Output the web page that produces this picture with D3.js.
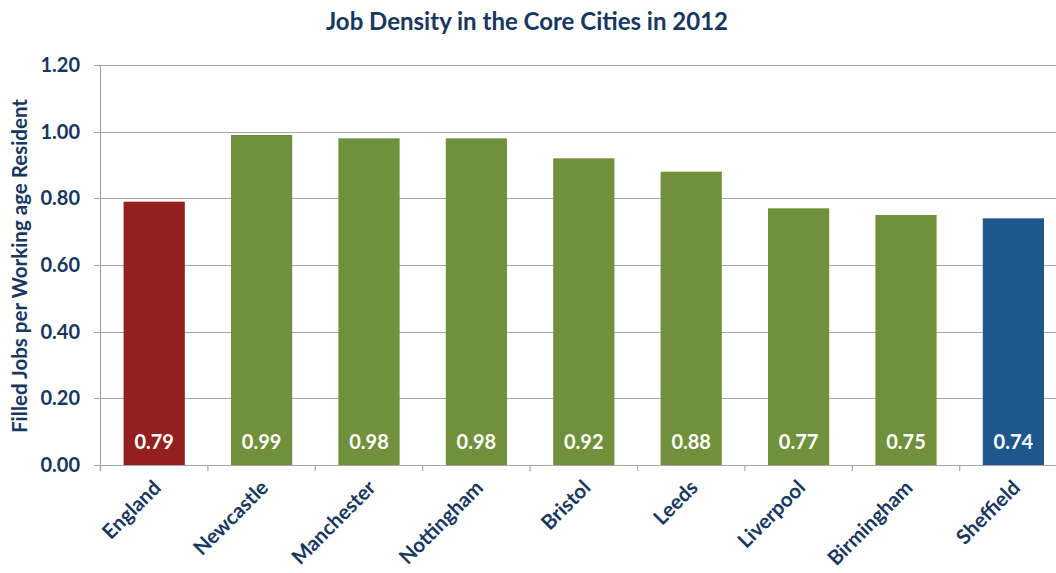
<!DOCTYPE html>
<html><head><meta charset="utf-8">
<script src="https://cdn.jsdelivr.net/npm/d3@7"></script>
<style>body{margin:0;background:#fff}svg{display:block}</style>
</head><body>
<script>
const categories = ["England","Newcastle","Manchester","Nottingham","Bristol","Leeds","Liverpool","Birmingham","Sheffield"];
const values = [0.79,0.99,0.98,0.98,0.92,0.88,0.77,0.75,0.74];
const barColors = ["#93201F","#71903B","#71903B","#71903B","#71903B","#71903B","#71903B","#71903B","#1D578C"];
const yTicks = [0,0.2,0.4,0.6,0.8,1.0,1.2];
const title = "Job Density in the Core Cities in 2012";
const yTitle = "Filled Jobs per Working age Resident";

const W=1056,H=573;
const m={left:100.5,top:65,bottom:108};
const plotRight = 100.5 + 9*107.4;
const navy="#17375E";
const font="Lato, 'Open Sans', sans-serif";
const svg=d3.select("body").append("svg").attr("width",W).attr("height",H);
const x=d3.scaleBand().domain(categories).range([m.left,plotRight]).paddingInner(0.43).paddingOuter(0.215);
const y=d3.scaleLinear().domain([0,1.2]).range([465,65]);

// gridlines
svg.append("g").selectAll("line").data(yTicks).join("line")
 .attr("x1",94).attr("x2",W).attr("y1",d=>Math.round(y(d))+0.5).attr("y2",d=>Math.round(y(d))+0.5)
 .attr("stroke","#A6A6A6").attr("stroke-width",1.2);

// y labels
svg.append("g").selectAll("text").data(yTicks).join("text")
 .attr("x",80).attr("y",d=>y(d)).attr("dy","0.35em").attr("text-anchor","end")
 .attr("font-family",font).attr("font-weight","bold").attr("font-size",20).attr("fill",navy)
 .text(d=>d3.format(".2f")(d));

// bars
svg.append("g").selectAll("rect").data(values).join("rect")
 .attr("x",(d,i)=>x(categories[i])).attr("width",x.bandwidth())
 .attr("y",d=>y(d)).attr("height",d=>y(0)-y(d)).attr("fill",(d,i)=>barColors[i]);

// axes lines
svg.append("line").attr("x1",m.left).attr("x2",m.left).attr("y1",65).attr("y2",471).attr("stroke","#A6A6A6").attr("stroke-width",1.2);
svg.append("line").attr("x1",m.left).attr("x2",W).attr("y1",465.5).attr("y2",465.5).attr("stroke","#A6A6A6").attr("stroke-width",1.2);
const step=x.step();
svg.append("g").selectAll("line").data(d3.range(categories.length)).join("line")
 .attr("x1",i=>m.left+i*step).attr("x2",i=>m.left+i*step).attr("y1",465).attr("y2",471)
 .attr("stroke","#A6A6A6").attr("stroke-width",1.2);

// value labels
svg.append("g").selectAll("text").data(values).join("text")
 .attr("x",(d,i)=>x(categories[i])+x.bandwidth()/2).attr("y",449)
 .attr("text-anchor","middle").attr("font-family",font).attr("font-weight","bold").attr("font-size",20).attr("fill","#fff")
 .text(d=>d3.format(".2f")(d));

// category labels
svg.append("g").selectAll("text").data(categories).join("text")
 .attr("transform",d=>`translate(${x(d)+x.bandwidth()/2+8},${489}) rotate(-45)`)
 .attr("text-anchor","end").attr("font-family",font).attr("font-weight","bold").attr("font-size",20.5).attr("fill",navy)
 .text(d=>d);

// title
svg.append("text").attr("x",527).attr("y",30).attr("text-anchor","middle")
 .attr("font-family",font).attr("font-weight","bold").attr("font-size",24).attr("fill",navy).text(title);

// y title
svg.append("text").attr("transform","translate(27,266) rotate(-90)").attr("text-anchor","middle")
 .attr("font-family",font).attr("font-weight","bold").attr("font-size",20.5).attr("fill",navy).text(yTitle);
</script>
</body></html>
